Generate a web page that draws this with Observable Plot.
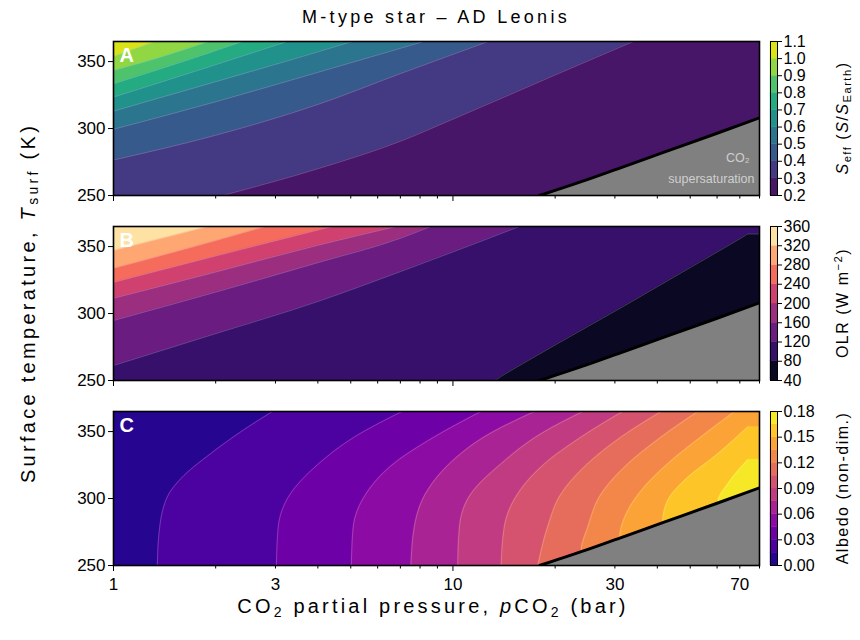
<!DOCTYPE html>
<html><head><meta charset="utf-8">
<script src="https://cdn.jsdelivr.net/npm/d3@7"></script>
<script src="https://cdn.jsdelivr.net/npm/@observablehq/plot@0.6"></script>
<style>
body{margin:0;background:#fff;font-family:"Liberation Sans",Arial,sans-serif;color:#000;}
#chart{position:relative;width:860px;height:640px;overflow:hidden;background:#fff;}
#chart > div.p{position:absolute;}
.txt{position:absolute;white-space:nowrap;}
.rot{position:absolute;white-space:nowrap;transform:translate(-50%,-50%) rotate(-90deg);}
sub{font-size:70%;vertical-align:-0.25em;line-height:0;}
sup{font-size:70%;vertical-align:0.5em;line-height:0;}
</style></head><body><div id="chart"></div>
<script>
// ---- axes ----
const xDomain = [1, 80];
const yDomain = [250, 365];
const xTickLabels = [1, 3, 10, 30, 70];
const xMajor = [1, 10];
const xMinor = [2, 3, 4, 5, 6, 7, 8, 9, 20, 30, 40, 50, 60, 70, 80];
const yTicks = [250, 300, 350];

// ---- CO2 supersaturation boundary ----
const satP = [18, 24, 31, 41.5, 60, 80];
const satT = [250, 260.5, 270.5, 282, 296.5, 308];

// ---- Panel A: S_eff contour lines ----
const seffLevels = [0.2, 0.3, 0.4, 0.5, 0.6, 0.7, 0.8, 0.9, 1.0, 1.1];
const seffLines = [
  {level: 0.3, p: [2.1, 2.2, 4, 7, 10, 20, 34], T: [250, 251.4, 270, 290.5, 307, 340, 365]},
  {level: 0.4, p: [1, 2, 4, 7, 12.7], T: [276.5, 295, 318, 341, 365]},
  {level: 0.5, p: [1, 2, 4, 8.2], T: [299.5, 320, 342, 365]},
  {level: 0.6, p: [1, 2, 3.2, 5.05], T: [313, 335, 350, 365]},
  {level: 0.7, p: [1, 1.8, 3.25], T: [323.5, 344, 365]},
  {level: 0.8, p: [1, 1.6, 2.4], T: [333.5, 350, 365]},
  {level: 0.9, p: [1, 1.4, 1.9], T: [343.5, 354, 365]},
  {level: 1.0, p: [1, 1.32], T: [354, 365]}
];

// ---- Panel B: OLR contour lines ----
const olrLevels = [40, 80, 120, 160, 200, 240, 280, 320, 360];
const olrLines = [
  {level: 80, p: [13.2, 14, 20, 31.6, 50, 65, 72.5, 74, 80], T: [250, 253.8, 276.5, 305, 334.3, 351, 358.1, 359.4, 359.4]},
  {level: 120, p: [1, 2, 4, 7, 10, 15.7], T: [261.2, 285, 309, 331.3, 346, 365]},
  {level: 160, p: [1, 2, 4, 7, 8.6], T: [294.8, 316, 338, 356.2, 365]},
  {level: 200, p: [1, 2, 4, 6.8], T: [311.4, 331, 351, 365]},
  {level: 240, p: [1, 2, 4.4], T: [323.3, 343, 365]},
  {level: 280, p: [1, 1.7, 2.8], T: [333.8, 349.5, 365]},
  {level: 320, p: [1, 1.9], T: [347, 365]}
];

// ---- Panel C: albedo contour lines ----
const albLevels = [0, 0.015, 0.03, 0.045, 0.06, 0.075, 0.09, 0.105, 0.12, 0.135, 0.15, 0.165, 0.18];
const albTicks = [0, 0.03, 0.06, 0.09, 0.12, 0.15, 0.18];
const albLines = [
  {level: 0.015, p: [1.346, 1.361, 1.439, 1.578, 1.932, 2.371, 2.938], T: [250, 273.5, 301, 314.8, 333.5, 349.8, 365]},
  {level: 0.03, p: [3.02, 3.055, 3.31, 3.98, 5.13, 7.08], T: [250, 278, 303, 325, 346, 365]},
  {level: 0.045, p: [5.02, 5.08, 5.56, 6.61, 8.81, 12.1], T: [250, 278, 304, 325, 346, 365]},
  {level: 0.06, p: [7.52, 7.69, 8.41, 9.86, 12.36, 17.38], T: [250, 278.5, 306, 327, 346, 365]},
  {level: 0.075, p: [10.33, 10.45, 11.3, 13.87, 18.2, 24.15], T: [250, 278.5, 303.5, 326, 348.5, 365]},
  {level: 0.09, p: [13.87, 14.16, 15.52, 18.62, 23.88, 31.62], T: [250, 278.5, 303.5, 326, 346, 365]},
  {level: 0.105, p: [17.8, 19.0, 20.84, 24.95, 31.33, 41.1], T: [250, 278.5, 303.5, 326, 346, 365]},
  {level: 0.12, p: [23.88, 24.95, 27.35, 32.8, 41.1, 52.7], T: [261, 278.5, 303.5, 326, 346, 365]},
  {level: 0.135, p: [30.97, 32.06, 35.9, 42.95, 53.8, 67.6], T: [269.8, 286, 306, 326, 346, 365]},
  {level: 0.15, p: [41.5, 42.95, 48.1, 60.4, 73.96], T: [282.3, 298.5, 313.5, 333.5, 353.5]},
  {level: 0.165, p: [60.4, 64.6, 73.96], T: [297.3, 311, 329]}
];

// ---------------------------------------------------------------
const FONT = "Liberation Sans, Arial, sans-serif";
const chart = document.getElementById("chart");
const PANEL_H = 154, MT = 41;
const sat = satP.map((p, i) => ({p, T: satT[i]}));

function bandColors(levels, interp) {
  const n = levels.length - 1;
  return d3.range(n).map(i => interp((i + 0.5) / n));
}

// contour polyline, extended along the plot edge where it starts on the bottom axis
function linePoints(ln, dir) {
  let pts = ln.p.map((p, i) => ({p, T: ln.T[i]}));
  if (dir === "y") {
    if (pts[0].T === yDomain[0] && pts[0].p > xDomain[0]) pts = [{p: xDomain[0], T: yDomain[0]}, ...pts];
  } else {
    if (pts[0].T > yDomain[0]) pts = [{p: pts[0].p, T: yDomain[0]}, ...pts];
  }
  return pts;
}

function panel({lines, levels, interp, dir, letter, top, mb, xLabels, extra = []}) {
  const colors = bandColors(levels, interp);
  const colorOf = lev => colors[levels.findIndex(l => Math.abs(l - lev) < 1e-9)];
  const curve = dir === "y" ? "monotone-x" : "monotone-y";
  const marks = [Plot.frame({fill: colors[0]})];
  for (const ln of lines) {
    const c = colorOf(ln.level);
    const pts = linePoints(ln, dir);
    if (dir === "y") {
      marks.push(Plot.areaY(pts, {x: "p", y1: "T", y2: yDomain[1], fill: c, stroke: c, strokeWidth: 0.5, curve, clip: true}));
    } else {
      marks.push(Plot.areaX(pts, {y: "T", x1: "p", x2: xDomain[1], fill: c, stroke: c, strokeWidth: 0.5, curve, clip: true}));
    }
  }
  for (const ln of lines) {
    marks.push(Plot.line(linePoints(ln, dir), {x: "p", y: "T", stroke: "white", strokeOpacity: 0.35, strokeWidth: 0.6, curve, clip: true}));
  }
  marks.push(Plot.areaY(sat, {x: "p", y1: yDomain[0], y2: "T", fill: "#808080", curve: "monotone-x", clip: true}));
  marks.push(Plot.line(sat, {x: "p", y: "T", stroke: "black", strokeWidth: 3, curve: "monotone-x", clip: true}));
  marks.push(...extra);
  marks.push(Plot.text([letter], {frameAnchor: "top-left", dx: 6, dy: 6, fill: "white", fontWeight: "bold", fontSize: 20, lineAnchor: "top", textAnchor: "start"}));
  marks.push(Plot.frame({stroke: "black", strokeWidth: 1.6}));
  marks.push(Plot.axisY(yTicks, {tickSize: 5, tickPadding: 3, fontSize: 17, label: null, tickFormat: d => d}));
  marks.push(Plot.axisX(xMinor, {tickSize: 3.5, tickFormat: () => "", label: null}));
  marks.push(Plot.axisX(xMajor, {tickSize: 6, tickFormat: () => "", label: null}));
  if (xLabels) marks.push(Plot.text(xTickLabels, {x: d => d, text: d => String(d), frameAnchor: "bottom", dy: 19, fontSize: 17, lineAnchor: "middle"}));
  const svg = Plot.plot({
    width: 860, height: MT + PANEL_H + mb,
    marginLeft: 113, marginRight: 101, marginTop: MT, marginBottom: mb,
    x: {type: "log", domain: xDomain, axis: null},
    y: {domain: yDomain, axis: null},
    style: {fontFamily: FONT, fontSize: "17px", color: "#000", background: "transparent", overflow: "visible"},
    marks
  });
  const d = document.createElement("div");
  d.className = "p"; d.style.left = "0px"; d.style.top = top + "px";
  d.appendChild(svg);
  chart.appendChild(d);
}

function colorbar({levels, ticks, interp, top, fmt}) {
  const colors = bandColors(levels, interp);
  const bands = colors.map((c, i) => ({lo: levels[i], hi: levels[i + 1], c}));
  const svg = Plot.plot({
    width: 70, height: MT + PANEL_H + 10,
    marginLeft: 2, marginRight: 61, marginTop: MT, marginBottom: 10,
    x: {domain: [0, 1], axis: null},
    y: {domain: [levels[0], levels[levels.length - 1]], axis: null},
    style: {fontFamily: FONT, fontSize: "16px", color: "#000", background: "transparent", overflow: "visible"},
    marks: [
      Plot.rect(bands, {x1: 0, x2: 1, y1: "lo", y2: "hi", fill: "c", stroke: "c", strokeWidth: 0.4}),
      Plot.frame({stroke: "black", strokeWidth: 1}),
      Plot.axisY(ticks, {anchor: "right", tickSize: 4, tickPadding: 2, fontSize: 16, label: null, tickFormat: fmt})
    ]
  });
  const d = document.createElement("div");
  d.className = "p"; d.style.left = "768px"; d.style.top = top + "px";
  d.appendChild(svg);
  chart.appendChild(d);
}

const supersatText = [
  Plot.text(["supersaturation"], {frameAnchor: "bottom-right", dx: -5, dy: -13, fill: "#cfcfcf", fontSize: 12.5, textAnchor: "end", style: "letter-spacing:0.7px"}),
  Plot.text(["CO₂"], {frameAnchor: "bottom-right", dx: -10, dy: -34, fill: "#cfcfcf", fontSize: 12.5, textAnchor: "end"})
];

panel({lines: seffLines, levels: seffLevels, interp: d3.interpolateViridis, dir: "y", letter: "A", top: 0, mb: 10, xLabels: false, extra: supersatText});
panel({lines: olrLines, levels: olrLevels, interp: d3.interpolateMagma, dir: "y", letter: "B", top: 185, mb: 10, xLabels: false});
panel({lines: albLines, levels: albLevels, interp: d3.interpolatePlasma, dir: "x", letter: "C", top: 370, mb: 40, xLabels: true});

colorbar({levels: seffLevels, ticks: seffLevels, interp: d3.interpolateViridis, top: 0, fmt: d => d.toFixed(1)});
colorbar({levels: olrLevels, ticks: olrLevels, interp: d3.interpolateMagma, top: 185, fmt: d => String(d)});
colorbar({levels: albLevels, ticks: albTicks, interp: d3.interpolatePlasma, top: 370, fmt: d => d.toFixed(2)});

function addText(html, cls, css) {
  const d = document.createElement("div");
  d.className = cls; d.innerHTML = html;
  Object.assign(d.style, css);
  chart.appendChild(d);
}
addText("M-type star – AD Leonis", "txt", {left: "436px", top: "7px", transform: "translateX(-50%)", fontSize: "18px", letterSpacing: "3.3px"});
addText("CO<sub>2</sub> partial pressure, <i>p</i>CO<sub>2</sub> (bar)", "txt", {left: "433px", top: "596px", transform: "translateX(-50%)", fontSize: "20px", letterSpacing: "3.2px", lineHeight: "1"});
addText("Surface temperature, <i>T</i><sub>surf</sub> (K)", "rot", {left: "28px", top: "303px", fontSize: "20px", letterSpacing: "3.3px"});
addText("<i>S</i><sub>eff</sub> (<i>S</i>/<i>S</i><sub>Earth</sub>)", "rot", {left: "843px", top: "118px", fontSize: "16px", letterSpacing: "1.5px"});
addText("OLR (W m<sup>−2</sup>)", "rot", {left: "843px", top: "303px", fontSize: "16px", letterSpacing: "1.5px"});
addText("Albedo (non-dim.)", "rot", {left: "843px", top: "488px", fontSize: "16px", letterSpacing: "1.5px"});
</script></body></html>
